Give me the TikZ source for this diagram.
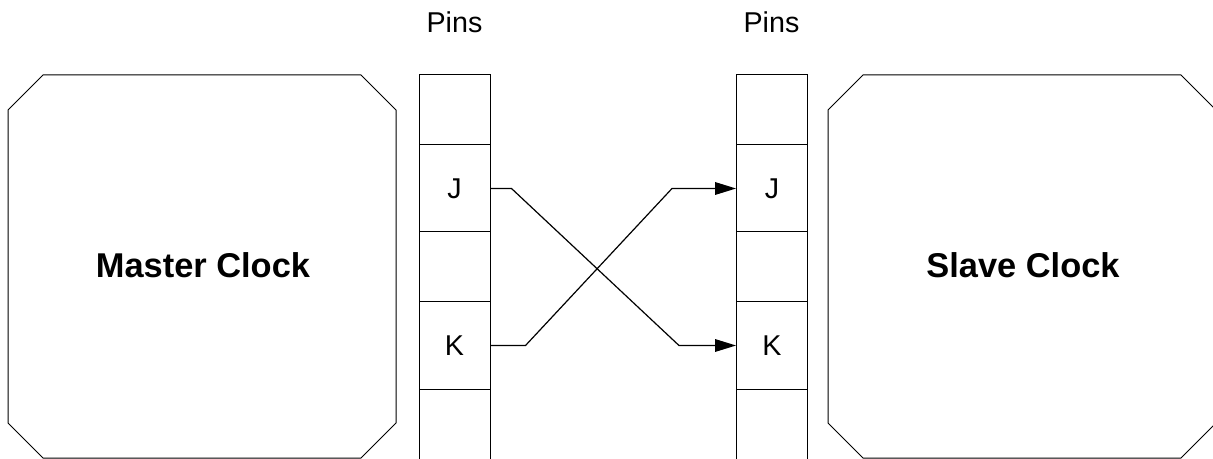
\documentclass[tikz,border=0pt]{standalone}
\usepackage{fontspec}
\setmainfont{Liberation Sans}
\usetikzlibrary{arrows.meta,calc}
\begin{document}
\begin{tikzpicture}[x=0.75pt,y=-0.75pt,
  line width=0.75pt,
  cell/.style={draw, minimum width=53.25pt, inner sep=0pt, font=\fontsize{21.5}{25}\selectfont},
  shortcell/.style={cell, minimum height=52.5pt},
  tallcell/.style={cell, minimum height=65.25pt},
  clocktext/.style={font=\fontsize{25.8}{30}\selectfont\bfseries},
  pinlabel/.style={font=\fontsize{21.5}{25}\selectfont},
  wire/.style={line width=0.9pt, -{Triangle[length=15.75pt, width=9.5pt]}}
]
\useasboundingbox (0,0) rectangle (1213,459);
\clip (0,0) rectangle (1213,459);

% clocks
\draw (8,110) -- (43,75) -- (361,75) -- (396,110) -- (396,423) -- (361,458) -- (43,458) -- (8,423) -- cycle;
\draw (828,110) -- (863,75) -- (1181,75) -- (1216,110) -- (1216,423) -- (1181,458) -- (863,458) -- (828,423) -- cycle;
\node[clocktext] (master) at (203,265) {Master Clock};
\node[clocktext] (slave) at (1023,265) {Slave Clock};

% left pins
\node[shortcell] (l1) at (454.5,110) {};
\node[tallcell] (lJ) at (454.5,188.5) {J};
\node[shortcell] (l3) at (454.5,267) {};
\node[tallcell] (lK) at (454.5,345.5) {K};
\node[shortcell] (l5) at (454.5,424) {};

% right pins
\node[shortcell] (r1) at (772,110) {};
\node[tallcell] (rJ) at (772,188.5) {J};
\node[shortcell] (r3) at (772,267) {};
\node[tallcell] (rK) at (772,345.5) {K};
\node[shortcell] (r5) at (772,424) {};

\node[pinlabel] (pl) at (454.5,22) {Pins};
\node[pinlabel] (pr) at (771.5,22) {Pins};

% wires
\draw[wire] (lJ.east) -- ++(21,0) -- ($(rK.west)+(-57,0)$) -- (rK.west);
\draw[wire] (lK.east) -- ++(35,0) -- ($(rJ.west)+(-64,0)$) -- (rJ.west);
\end{tikzpicture}
\end{document}
